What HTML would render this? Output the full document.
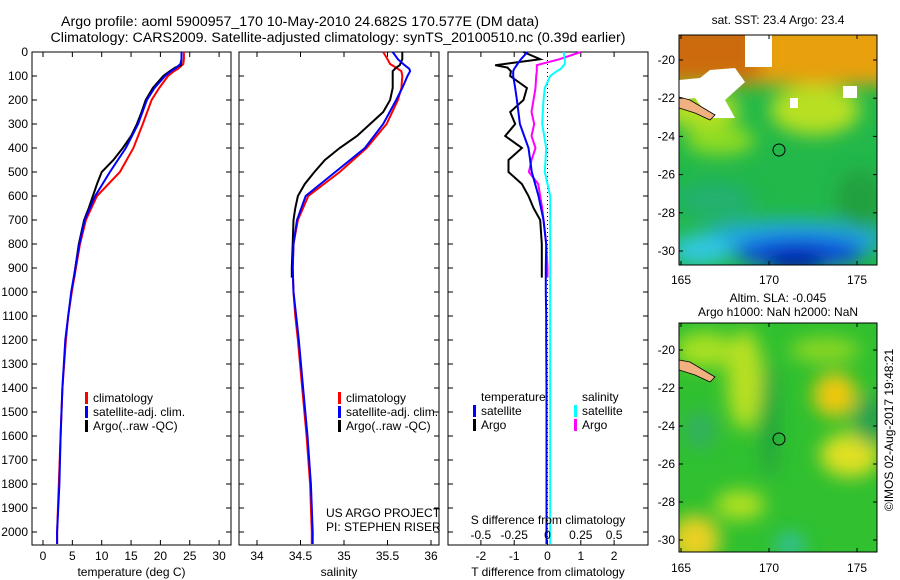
<!DOCTYPE html>
<html><head><meta charset="utf-8"><style>
body{margin:0;background:#fff}
svg{display:block;font-family:"Liberation Sans",sans-serif;font-size:12px}
</style></head><body>
<svg id="c" width="900" height="580" viewBox="0 0 900 580">
<defs>
<filter id="bl" x="-50%" y="-50%" width="200%" height="200%"><feGaussianBlur stdDeviation="9"/></filter>
<clipPath id="m1"><rect x="679" y="35" width="198" height="230"/></clipPath>
<clipPath id="m2"><rect x="679" y="323" width="198" height="229"/></clipPath>
</defs>
<text x="300" y="26" text-anchor="middle" font-size="14.2">Argo profile: aoml 5900957_170 10-May-2010 24.682S 170.577E (DM data)</text>
<text x="338" y="42" text-anchor="middle" font-size="14.2">Climatology: CARS2009. Satellite-adjusted climatology: synTS_20100510.nc (0.39d earlier)</text>

<g id="p1"></g>
<g id="p2"></g>
<g id="p3"></g>

<g>
<text x="778" y="24" text-anchor="middle">sat. SST: 23.4 Argo: 23.4</text>
<g clip-path="url(#m1)">
<rect x="679" y="35" width="198" height="230" fill="#22b84a"/>
<g filter="url(#bl)">
<rect x="660" y="20" width="240" height="65" fill="#e8a010"/>
<rect x="660" y="20" width="100" height="60" fill="#cc6a10"/>
<ellipse cx="700" cy="110" rx="40" ry="18" fill="#b8e020"/>
<ellipse cx="815" cy="110" rx="45" ry="25" fill="#b8e020"/>
<ellipse cx="720" cy="140" rx="35" ry="15" fill="#90dc20"/>
<ellipse cx="715" cy="200" rx="40" ry="18" fill="#20b070"/>
<ellipse cx="790" cy="240" rx="95" ry="20" fill="#20a8e0"/>
<ellipse cx="800" cy="252" rx="65" ry="16" fill="#1050d8"/>
<ellipse cx="795" cy="262" rx="30" ry="10" fill="#0018a0"/>
<ellipse cx="700" cy="250" rx="30" ry="15" fill="#30c8e0"/>
<ellipse cx="860" cy="200" rx="25" ry="30" fill="#20a040"/>
</g>
<path d="M679 80 L700 78 L710 70 L735 68 L745 82 L725 100 L735 118 L710 118 L695 98 L679 100 Z" fill="#fff"/>
<rect x="745" y="35" width="27" height="32" fill="#fff"/>
<rect x="843" y="86" width="14" height="12" fill="#fff"/>
<rect x="790" y="98" width="8" height="10" fill="#fff"/>
<path d="M679 97 L690 100 L715 115 L710 120 L695 113 L679 108 Z" fill="#f0b080" stroke="#000" stroke-width="0.8"/>
<circle cx="779" cy="150" r="6" fill="none" stroke="#000"/>
</g>
<rect x="679" y="35" width="198" height="230" fill="none" stroke="#000"/>
</g>

<g>
<text x="778" y="302" text-anchor="middle">Altim. SLA: -0.045</text>
<text x="778" y="316" text-anchor="middle">Argo h1000: NaN h2000: NaN</text>
<g clip-path="url(#m2)">
<rect x="679" y="323" width="198" height="229" fill="#30c030"/>
<g filter="url(#bl)">
<ellipse cx="705" cy="350" rx="30" ry="18" fill="#a8e020"/>
<ellipse cx="745" cy="380" rx="18" ry="50" fill="#b8e020"/>
<ellipse cx="835" cy="395" rx="22" ry="22" fill="#f0c810"/>
<ellipse cx="850" cy="455" rx="30" ry="22" fill="#e0e020"/>
<ellipse cx="825" cy="350" rx="35" ry="12" fill="#90d820"/>
<ellipse cx="695" cy="540" rx="25" ry="25" fill="#e8d020"/>
<ellipse cx="740" cy="505" rx="25" ry="15" fill="#b0e020"/>
<ellipse cx="770" cy="420" rx="8" ry="60" fill="#20a040"/>
<ellipse cx="790" cy="545" rx="15" ry="12" fill="#30c0a0"/>
<ellipse cx="700" cy="430" rx="15" ry="20" fill="#30b060"/>
<ellipse cx="870" cy="420" rx="15" ry="25" fill="#20a050"/>
</g>
<path d="M679 360 L690 362 L715 377 L710 382 L695 375 L679 370 Z" fill="#f0b080" stroke="#000" stroke-width="0.8"/>
<circle cx="779" cy="439" r="6" fill="none" stroke="#000"/>
</g>
<rect x="679" y="323" width="198" height="229" fill="none" stroke="#000"/>
</g>
<text transform="translate(893,430) rotate(-90)" text-anchor="middle">©IMOS 02-Aug-2017 19:48:21</text>
<g id="mapaxes"></g>
</svg>
<script>
const depthClim = [0,30,50,70,80,100,150,200,300,400,500,600,700,800,900,1000,1100,1200,1400,1600,1800,2000,2050];
const tempClim = [24.0,24.0,23.9,23.0,22.3,21.3,19.8,18.5,17.0,15.4,13.1,9.2,7.3,6.3,5.6,4.9,4.3,3.9,3.3,3.0,2.7,2.4,2.4];
const tempSat = [23.6,23.6,23.4,22.5,21.8,20.8,19.0,17.7,16.2,14.1,11.4,8.9,7.1,6.2,5.5,4.8,4.3,3.8,3.3,3.0,2.8,2.4,2.4];
const depthArgo = [0,30,55,65,80,100,150,200,250,300,350,400,450,500,550,600,650,700,800,900,940];
const tempArgo = [23.6,23.6,23.5,22.5,21.6,20.5,18.7,17.5,16.8,16.0,15.0,13.6,12.0,10.0,9.2,8.5,7.8,7.0,6.1,5.5,5.3];
const salClim = [35.45,35.50,35.53,35.62,35.66,35.67,35.66,35.62,35.49,35.26,34.95,34.59,34.47,34.42,34.41,34.42,34.44,34.47,34.52,34.57,34.61,34.63,34.63];
const salSat = [35.56,35.62,35.68,35.75,35.76,35.73,35.67,35.60,35.45,35.24,34.90,34.56,34.46,34.42,34.41,34.42,34.45,34.48,34.53,34.58,34.62,34.64,34.64];
const salArgo = [35.67,35.67,35.64,35.60,35.56,35.56,35.56,35.53,35.45,35.30,35.15,34.95,34.78,34.66,34.55,34.47,34.44,34.42,34.41,34.40,34.40];
const tDiffSat = [-0.6,-0.8,-0.9,-1.0,-1.03,-1.03,-0.97,-0.92,-0.83,-0.57,-0.47,-0.27,-0.12,-0.04,-0.05,-0.05,-0.04,-0.04,-0.03,-0.03,-0.03,-0.03,-0.03];
const sDiffSat = [0.12,0.13,0.13,0.10,0.07,0.02,-0.02,-0.03,-0.04,-0.01,-0.02,0.02,0.02,0.02,0.02,0.02,0.02,0.02,0.02,0.02,0.02,0.02,0.02];
const tDiffArgo = [-0.72,-0.22,-1.57,-1.2,-1.1,-1.12,-0.62,-0.72,-1.12,-0.97,-1.27,-0.77,-1.17,-1.17,-0.77,-0.57,-0.42,-0.22,-0.17,-0.17,-0.17];
const sDiffArgo = [0.25,0.09,-0.08,-0.08,-0.08,-0.085,-0.09,-0.105,-0.12,-0.1,-0.12,-0.09,-0.12,-0.14,-0.07,-0.055,-0.04,-0.03,-0.01,0,0];
const depthTicks = [0,100,200,300,400,500,600,700,800,900,1000,1100,1200,1300,1400,1500,1600,1700,1800,1900,2000];
const tempTicks = [0,5,10,15,20,25,30];
const salTicks = [34,34.5,35,35.5,36];
const tDiffTicks = [-2,-1,0,1,2];
const sDiffTicks = [-0.5,-0.25,0,0.25,0.5];
const latTicks = [-20,-22,-24,-26,-28,-30];
const lonTicks = [165,170,175];

const NS = 'http://www.w3.org/2000/svg';
function mk(parent, tag, attrs, txt){const e=document.createElementNS(NS,tag);for(const k in attrs)e.setAttribute(k,attrs[k]);if(txt!==undefined)e.textContent=txt;parent.appendChild(e);return e;}
const TOP=52, BOT=545;
const yD = d => TOP + d*0.24;
function panel(g,x0,x1,xs,ticks,labelFmt,title,showY){
  mk(g,'rect',{x:x0,y:TOP,width:x1-x0,height:BOT-TOP,fill:'none',stroke:'#000'});
  depthTicks.forEach(d=>{const y=yD(d);
    mk(g,'line',{x1:x0,y1:y,x2:x0+5,y2:y,stroke:'#000'});
    mk(g,'line',{x1:x1-5,y1:y,x2:x1,y2:y,stroke:'#000'});
    if(showY){const t=mk(g,'text',{x:x0-4,y:y+4,'text-anchor':'end'},String(d));
      
      }
  });
  ticks.forEach(v=>{const x=xs(v);
    mk(g,'line',{x1:x,y1:BOT,x2:x,y2:BOT-5,stroke:'#000'});
    mk(g,'line',{x1:x,y1:TOP,x2:x,y2:TOP+5,stroke:'#000'});
    const t=mk(g,'text',{x:x,y:560,'text-anchor':'middle'},labelFmt(v));
    
    
  });
  const tt=mk(g,'text',{x:(x0+x1)/2,y:576,'text-anchor':'middle'},title);
  
  
}
function line(g,xs,vals,depths,color,name,w){
  const pts=vals.map((v,i)=>xs(v).toFixed(1)+','+yD(depths[i]).toFixed(1)).join(' ');
  const p=mk(g,'polyline',{points:pts,fill:'none',stroke:color,'stroke-width':w||2});
  
  
}
function legend(g,x,y,items){
  items.forEach((it,i)=>{
    mk(g,'rect',{x:x,y:y+i*14-10,width:3,height:12,fill:it[1]});
    const t=mk(g,'text',{x:x+8,y:y+i*14},it[0]);
    
    
  });
}
const g1=document.getElementById('p1');
const xT = v => 43 + v*5.87;
panel(g1,32,231,xT,tempTicks,String,'temperature (deg C)',true);
line(g1,xT,tempClim,depthClim,'#f00','temp-climatology-line');
line(g1,xT,tempArgo,depthArgo,'#000','temp-argo-line');
line(g1,xT,tempSat,depthClim,'#00f','temp-satellite-line');
legend(g1,85,402,[['climatology','#f00'],['satellite-adj. clim.','#00f'],['Argo(..raw -QC)','#000']]);

const g2=document.getElementById('p2');
const xS = v => 257 + (v-34)*87;
panel(g2,239,439,xS,salTicks,String,'salinity',false);
line(g2,xS,salClim,depthClim,'#f00','sal-climatology-line');
line(g2,xS,salArgo,depthArgo,'#000','sal-argo-line');
line(g2,xS,salSat,depthClim,'#00f','sal-satellite-line');
legend(g2,338,402,[['climatology','#f00'],['satellite-adj. clim.','#00f'],['Argo(..raw -QC)','#000']]);
let t=mk(g2,'text',{x:326,y:517},'US ARGO PROJECT');


t=mk(g2,'text',{x:326,y:531},'PI: STEPHEN RISER');



const g3=document.getElementById('p3');
const xTD = v => 547.5 + v*33.3;
const xSD = v => 547.5 + v*133.2;
panel(g3,448,648,xTD,tDiffTicks,String,'T difference from climatology',false);
mk(g3,'line',{x1:547.5,y1:TOP,x2:547.5,y2:BOT,stroke:'#000','stroke-dasharray':'1,3'});
line(g3,xTD,tDiffArgo,depthArgo,'#000','tdiff-argo-line');
line(g3,xSD,sDiffArgo,depthArgo,'#f0f','sdiff-argo-line');
line(g3,xSD,sDiffSat,depthClim,'#0ff','sdiff-satellite-line');
line(g3,xTD,tDiffSat,depthClim,'#00f','tdiff-satellite-line');
sDiffTicks.forEach(v=>{
  const l=mk(g3,'text',{x:xSD(v),y:539,'text-anchor':'middle'},String(v));
  
  
});
t=mk(g3,'text',{x:548,y:524,'text-anchor':'middle'},'S difference from climatology');


t=mk(g3,'text',{x:481,y:401},'temperature');


t=mk(g3,'text',{x:582,y:401},'salinity');


legend(g3,473,415,[['satellite','#00f'],['Argo','#000']]);
legend(g3,574,415,[['satellite','#0ff'],['Argo','#f0f']]);

const ga=document.getElementById('mapaxes');
[[35,265,60,251,284],[323,552,350,540,572]].forEach(m=>{
  const [y0,y1,l20,l30,ly]=m;
  latTicks.forEach(v=>{const y=l20+(v+20)/-10*(l30-l20);
    mk(ga,'line',{x1:679,y1:y,x2:683,y2:y,stroke:'#000'});
    mk(ga,'line',{x1:873,y1:y,x2:877,y2:y,stroke:'#000'});
    const tx=mk(ga,'text',{x:675,y:y+4,'text-anchor':'end'},String(v));
    
    
  });
  lonTicks.forEach(v=>{const x=681+(v-165)*17.6;
    mk(ga,'line',{x1:x,y1:y1,x2:x,y2:y1-4,stroke:'#000'});
    mk(ga,'line',{x1:x,y1:y0,x2:x,y2:y0+4,stroke:'#000'});
    const tx=mk(ga,'text',{x:x,y:ly,'text-anchor':'middle'},String(v));
    
    
  });
});
</script>
</body></html>
